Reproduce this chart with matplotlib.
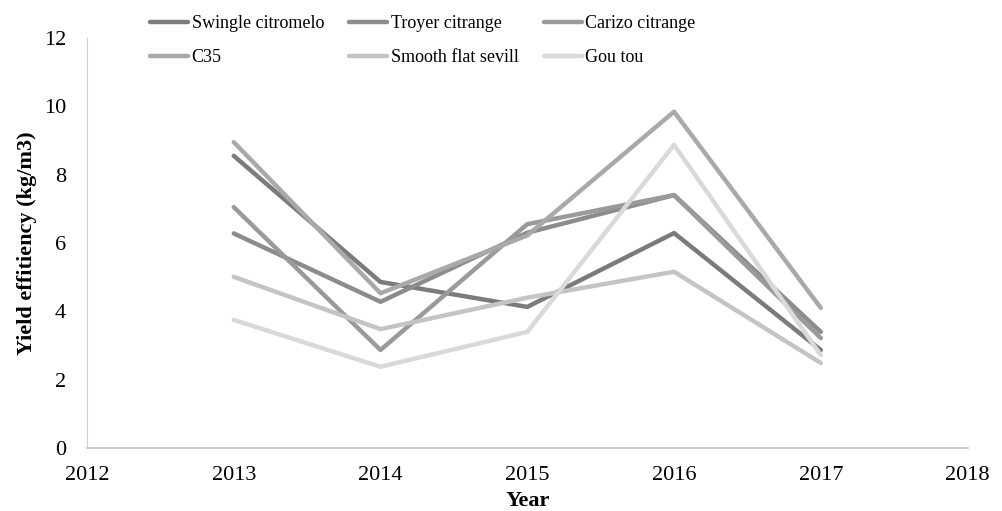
import matplotlib.pyplot as plt

years = [2013, 2014, 2015, 2016, 2017]
names = ["Swingle citromelo", "Troyer citrange", "Carizo citrange",
         "C35", "Smooth flat sevill", "Gou tou"]
swingle = [8.55, 4.86, 4.13, 6.29, 2.87]
troyer = [6.28, 4.28, 6.30, 7.40, 3.40]
carizo = [7.05, 2.87, 6.55, 7.40, 3.22]
c35 = [8.95, 4.53, 6.22, 9.84, 4.10]
smooth = [5.01, 3.48, 4.40, 5.16, 2.49]
goutou = [3.75, 2.38, 3.40, 8.87, 2.72]
colors = ["#7b7b7b", "#8c8c8c", "#9a9a9a", "#a9a9a9", "#c4c4c4", "#d9d9d9"]

plt.rcParams['font.family'] = 'serif'
plt.rcParams['font.serif'] = ['Liberation Serif', 'DejaVu Serif']

fig = plt.figure(figsize=(10.03, 5.11), dpi=100)
ax = fig.add_axes([0.0867, 0.123, 0.878, 0.803])

lines = []
for vals, name, c in zip([swingle, troyer, carizo, c35, smooth, goutou], names, colors):
    ln, = ax.plot(years, vals, color=c, lw=3.2, label=name, solid_capstyle='round')
    lines.append(ln)

ax.set_xlim(2012, 2018)
ax.set_ylim(0, 12)
ax.set_xticks(range(2012, 2019))
ax.set_yticks(range(0, 13, 2))
ax.tick_params(length=0, labelsize=16)
ax.tick_params(axis='x', pad=13)
ax.tick_params(axis='y', pad=15)
for s in ['top', 'right']:
    ax.spines[s].set_visible(False)
ax.spines['left'].set_color('#d0d0d0')
ax.spines['bottom'].set_color('#c8c8c8')
ax.spines['bottom'].set_linewidth(1.2)

ax.set_xlabel("Year", fontsize=16, fontweight='bold', labelpad=4)
ax.set_ylabel("Yield effitiency (kg/m3)", fontsize=16, fontweight='bold', labelpad=5)

order = [0, 3, 1, 4, 2, 5]
fig.legend([lines[i] for i in order], [names[i] for i in order],
           ncol=3, loc='upper left', bbox_to_anchor=(0.1496, 0.97),
           frameon=False, fontsize=13, handlelength=2.1, handletextpad=0.2,
           columnspacing=1.4, labelspacing=0.95, borderpad=0, borderaxespad=0)

fig.savefig("out.png", dpi=100)
